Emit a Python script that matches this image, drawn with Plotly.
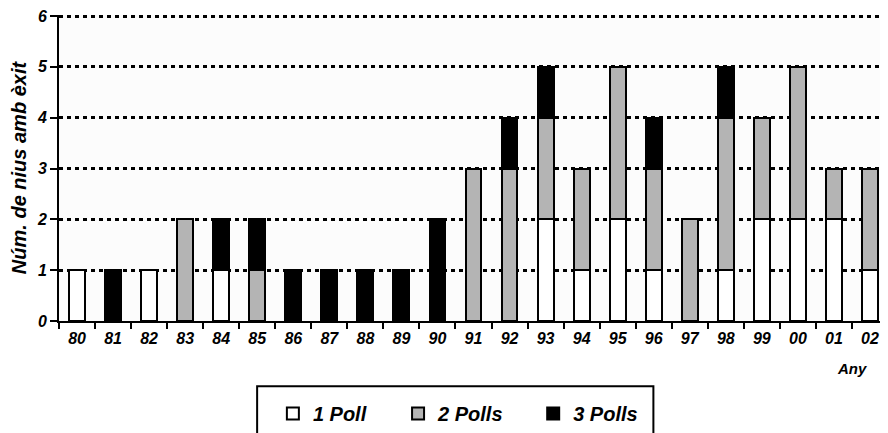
import plotly.graph_objects as go

years = ["80", "81", "82", "83", "84", "85", "86", "87", "88", "89", "90", "91",
         "92", "93", "94", "95", "96", "97", "98", "99", "00", "01", "02"]
poll1 = [1, 0, 1, 0, 1, 0, 0, 0, 0, 0, 0, 0, 0, 2, 1, 2, 1, 0, 1, 2, 2, 2, 1]
polls2 = [0, 0, 0, 2, 0, 1, 0, 0, 0, 0, 0, 3, 3, 2, 2, 3, 2, 2, 3, 2, 3, 1, 2]
polls3 = [0, 1, 0, 0, 1, 1, 1, 1, 1, 1, 2, 0, 1, 1, 0, 0, 1, 0, 1, 0, 0, 0, 0]
series_names = ["1 Poll", "2 Polls", "3 Polls"]
series_colors = ["#ffffff", "#b4b4b4", "#000000"]
y_ticks = [0, 1, 2, 3, 4, 5, 6]

FONT = "Liberation Sans, Arial, sans-serif"
legend_ids = ["legend", "legend2", "legend3"]
legend_x = [0.258, 0.409, 0.572]

fig = go.Figure()
for name, vals, col, lid in zip(series_names, [poll1, polls2, polls3], series_colors, legend_ids):
    fig.add_trace(go.Bar(
        x=years, y=vals, name=name, legend=lid,
        marker=dict(color=col, line=dict(color="#000000", width=2)),
    ))

legend_font = dict(size=20, family=FONT, weight="bold", style="italic")
leg_common = dict(orientation="h", xanchor="left", y=-0.304, yanchor="middle",
                  font=legend_font, bgcolor="rgba(0,0,0,0)", borderwidth=0,
                  itemwidth=30)

# page has an 8px body margin; figure is sized/positioned to compensate
fig.update_layout(
    width=880, height=425,
    margin=dict(l=51, r=0, t=7, b=109),
    barmode="stack", bargap=0.56,
    paper_bgcolor="#ffffff", plot_bgcolor="#fcfcfc",
    font=dict(family=FONT, color="#000000", weight="bold", style="italic"),
    showlegend=True,
    legend=dict(x=legend_x[0], **leg_common),
    legend2=dict(x=legend_x[1], **leg_common),
    legend3=dict(x=legend_x[2], **leg_common),
    shapes=[dict(
        type="rect", xref="paper", yref="paper",
        x0=0.239, x1=0.717, y0=-0.45, y1=-0.213,
        line=dict(color="#000000", width=2), fillcolor="rgba(0,0,0,0)",
        layer="above",
    )],
    annotations=[dict(
        text="Any", xref="paper", yref="paper", x=0.957, y=-0.155,
        xanchor="center", yanchor="middle", showarrow=False,
        font=dict(size=15, family=FONT, weight="bold", style="italic"),
    )],
)

fig.update_xaxes(
    type="category", range=[-0.5, 22.5],
    showline=True, linecolor="#000000", linewidth=2,
    ticks="outside", tickson="boundaries", ticklen=6, tickwidth=2, tickcolor="#000000",
    ticklabelstandoff=2,
    tickfont=dict(size=16, family=FONT, weight="bold", style="italic"),
    showgrid=False, zeroline=False,
)
fig.update_yaxes(
    range=[0, 6.02], tickvals=y_ticks,
    showline=True, linecolor="#000000", linewidth=2,
    ticks="outside", ticklen=7, tickwidth=2, tickcolor="#000000",
    ticklabeloverflow="allow",
    tickfont=dict(size=16, family=FONT, weight="bold", style="italic"),
    showgrid=True, gridcolor="#000000", gridwidth=2.5, griddash="4px,4px",
    zeroline=False,
    title=dict(text="Núm. de nius amb èxit", standoff=9,
               font=dict(size=20, family=FONT, weight="bold", style="italic")),
)

fig.write_html("out.html")
